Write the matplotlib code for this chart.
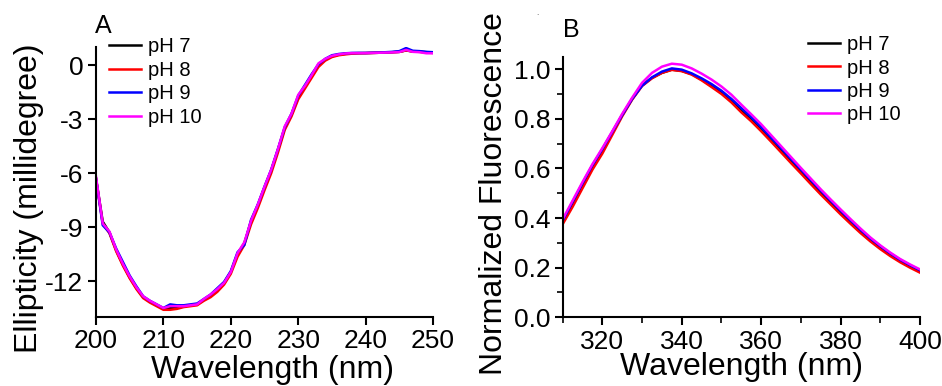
import matplotlib
matplotlib.use("Agg")
import matplotlib.pyplot as plt
from matplotlib.ticker import MultipleLocator

plt.rcParams['font.family'] = ['Liberation Sans', 'DejaVu Sans']
plt.rcParams['axes.unicode_minus'] = False

# ---- Panel A: far-UV CD spectra ----
cd_wavelength = [200, 201, 202, 203, 204, 205, 206, 207, 208, 209, 210, 211, 212,
                 213, 214, 215, 216, 217, 218, 219, 220, 221, 222, 223, 224, 225,
                 226, 227, 228, 229, 230, 231, 232, 233, 234, 235, 236, 237, 238,
                 239, 240, 241, 242, 243, 244, 245, 246, 247, 248, 249, 250]
cd_ph7 = [-6.3, -8.7, -9.3, -10.3, -11.1, -11.8, -12.4, -12.9, -13.15, -13.35, -13.55,
          -13.5, -13.5, -13.4, -13.35, -13.3, -13.05, -12.8, -12.5, -12.1, -11.5,
          -10.5, -9.9, -8.7, -7.8, -6.8, -5.85, -4.7, -3.5, -2.75, -1.8, -1.2, -0.6,
          0.0, 0.3, 0.5, 0.58, 0.63, 0.66, 0.67, 0.67, 0.68, 0.69, 0.7, 0.72, 0.74,
          0.82, 0.76, 0.75, 0.72, 0.7]
cd_ph8 = [-6.3, -8.8, -9.35, -10.35, -11.15, -11.85, -12.45, -12.95, -13.2, -13.4,
          -13.6, -13.6, -13.55, -13.45, -13.4, -13.35, -13.1, -12.9, -12.6, -12.2,
          -11.6, -10.65, -10.0, -8.85, -7.95, -6.95, -6.0, -4.85, -3.6, -2.85, -1.9,
          -1.3, -0.7, -0.1, 0.25, 0.45, 0.55, 0.6, 0.64, 0.66, 0.67, 0.68, 0.69, 0.7,
          0.72, 0.74, 0.82, 0.76, 0.74, 0.7, 0.68]
cd_ph9 = [-6.3, -8.9, -9.3, -10.2, -10.95, -11.7, -12.3, -12.85, -13.1, -13.3, -13.5,
          -13.3, -13.35, -13.35, -13.3, -13.25, -13.0, -12.75, -12.4, -12.05, -11.45,
          -10.4, -10.0, -8.6, -7.75, -6.75, -5.8, -4.65, -3.45, -2.7, -1.7, -1.1, -0.5,
          0.05, 0.35, 0.55, 0.62, 0.66, 0.68, 0.68, 0.68, 0.69, 0.7, 0.72, 0.74, 0.78,
          0.95, 0.8, 0.78, 0.74, 0.72]
cd_ph10 = [-6.2, -8.8, -9.25, -10.25, -11.05, -11.75, -12.35, -12.85, -13.1, -13.3,
           -13.5, -13.4, -13.4, -13.4, -13.35, -13.3, -13.0, -12.75, -12.45, -12.1,
           -11.5, -10.45, -9.85, -8.65, -7.75, -6.75, -5.8, -4.65, -3.4, -2.7, -1.65,
           -1.15, -0.55, 0.1, 0.35, 0.52, 0.6, 0.65, 0.67, 0.67, 0.67, 0.68, 0.69, 0.7,
           0.71, 0.73, 0.85, 0.74, 0.72, 0.66, 0.66]

# ---- Panel B: intrinsic fluorescence emission ----
fl_wavelength = [310, 312.5, 315, 317.5, 320, 322.5, 325, 327.5, 330, 332.5, 335,
                 337.5, 340, 342.5, 345, 347.5, 350, 352.5, 355, 357.5, 360, 362.5,
                 365, 367.5, 370, 372.5, 375, 377.5, 380, 382.5, 385, 387.5, 390,
                 392.5, 395, 397.5, 400]
fl_ph7 = [0.385, 0.46, 0.535, 0.61, 0.675, 0.745, 0.815, 0.88, 0.935, 0.965, 0.985,
          0.998, 0.993, 0.98, 0.958, 0.932, 0.905, 0.872, 0.835, 0.798, 0.758, 0.716,
          0.673, 0.63, 0.588, 0.545, 0.503, 0.462, 0.422, 0.383, 0.345, 0.311, 0.28,
          0.252, 0.227, 0.205, 0.185]
fl_ph8 = [0.375, 0.445, 0.52, 0.595, 0.66, 0.735, 0.81, 0.877, 0.932, 0.963, 0.985,
          0.997, 0.992, 0.978, 0.955, 0.928, 0.9, 0.866, 0.826, 0.79, 0.75, 0.708,
          0.665, 0.622, 0.58, 0.537, 0.495, 0.455, 0.415, 0.377, 0.34, 0.306, 0.275,
          0.247, 0.222, 0.2, 0.18]
fl_ph9 = [0.39, 0.465, 0.54, 0.613, 0.678, 0.747, 0.815, 0.88, 0.933, 0.967, 0.99,
          1.003, 0.998, 0.983, 0.963, 0.94, 0.913, 0.88, 0.843, 0.806, 0.766, 0.724,
          0.682, 0.638, 0.596, 0.553, 0.511, 0.47, 0.43, 0.391, 0.353, 0.318, 0.287,
          0.258, 0.232, 0.21, 0.19]
fl_ph10 = [0.395, 0.47, 0.545, 0.617, 0.682, 0.75, 0.82, 0.885, 0.945, 0.985, 1.01,
           1.022, 1.018, 1.003, 0.982, 0.958, 0.93, 0.897, 0.857, 0.818, 0.778, 0.734,
           0.69, 0.646, 0.602, 0.559, 0.516, 0.475, 0.435, 0.396, 0.358, 0.322, 0.29,
           0.261, 0.235, 0.213, 0.193]

labels = ["pH 7", "pH 8", "pH 9", "pH 10"]
colors = ["#000000", "#ff0000", "#0000ff", "#ff00ff"]

fig = plt.figure(figsize=(9.42, 3.86), dpi=100)
axA = fig.add_axes([0.1019, 0.1788, 0.3578, 0.699])
axB = fig.add_axes([0.5973, 0.178, 0.3793, 0.675])

TICK_FS = 19
LABEL_FS = 23
LEGEND_FS = 14.5


def style(ax):
    for side in ("top", "right"):
        ax.spines[side].set_visible(False)
    for side in ("left", "bottom"):
        ax.spines[side].set_linewidth(1.5)
    ax.tick_params(which="major", direction="out", length=6, width=1.5,
                   labelsize=TICK_FS, pad=3)
    ax.tick_params(which="minor", direction="out", length=4, width=1.2)


legend_kw = dict(loc="upper left", frameon=False, fontsize=LEGEND_FS,
                 handlelength=1.6, handletextpad=0.35, labelspacing=0.22,
                 borderaxespad=0, borderpad=0)

# Panel A
for ys, lab, c in zip([cd_ph7, cd_ph8, cd_ph9, cd_ph10], labels, colors):
    axA.plot(cd_wavelength, ys, color=c, lw=1.8, label=lab)
axA.set_xlim(200, 250)
axA.set_ylim(-14, 1)
axA.set_xticks([200, 210, 220, 230, 240, 250])
axA.set_yticks([0, -3, -6, -9, -12])
style(axA)
axA.set_xlabel("Wavelength (nm)", fontsize=LABEL_FS, va="baseline")
axA.set_ylabel("Ellipticity (millidegree)", fontsize=LABEL_FS)
axA.xaxis.set_label_coords(0.525, -0.226, transform=axA.transAxes)
axA.yaxis.set_label_coords(-0.153, 0.44, transform=axA.transAxes)
axA.legend(bbox_to_anchor=(0.038, 1.036), **legend_kw)
fig.text(0.101, 0.915, "A", fontsize=18, ha="left", va="baseline")

# Panel B
for ys, lab, c in zip([fl_ph7, fl_ph8, fl_ph9, fl_ph10], labels, colors):
    axB.plot(fl_wavelength, ys, color=c, lw=1.8, label=lab)
axB.set_xlim(310, 400)
axB.set_ylim(0, 1.05)
axB.set_xticks([320, 340, 360, 380, 400])
axB.set_yticks([0.0, 0.2, 0.4, 0.6, 0.8, 1.0])
axB.yaxis.set_major_formatter(plt.FormatStrFormatter("%.1f"))
axB.xaxis.set_minor_locator(MultipleLocator(10))
axB.yaxis.set_minor_locator(MultipleLocator(0.1))
style(axB)
axB.set_xlabel("Wavelength (nm)", fontsize=LABEL_FS, va="baseline")
axB.set_ylabel("Normalized Fluorescence", fontsize=LABEL_FS)
axB.xaxis.set_label_coords(0.5, -0.222, transform=axB.transAxes)
axB.yaxis.set_label_coords(-0.151, 0.473, transform=axB.transAxes)
axB.legend(bbox_to_anchor=(0.686, 1.083), **legend_kw)
fig.text(0.598, 0.905, "B", fontsize=18, ha="left", va="baseline")
fig.text(0.571, 0.965, ".", fontsize=6, ha="center", va="center", color="#444444")

fig.savefig("out.png", dpi=100)
